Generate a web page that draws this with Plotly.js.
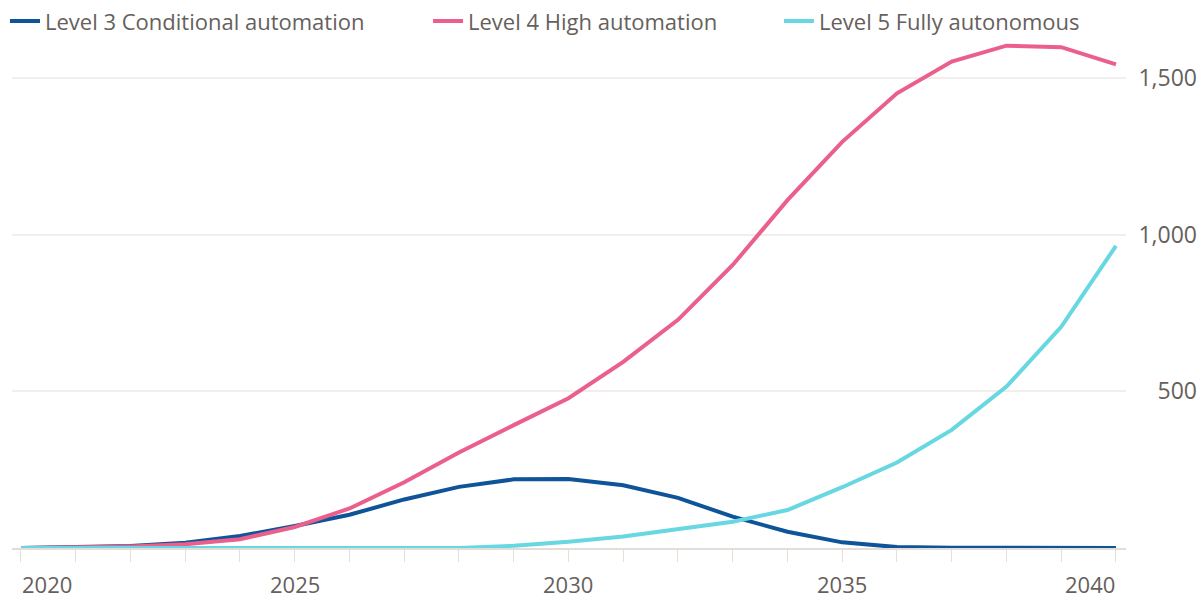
<!DOCTYPE html>
<html>
<head>
<meta charset="utf-8">
<script src="https://cdn.plot.ly/plotly-3.0.1.min.js"></script>
<style>
  html, body { margin: 0; padding: 0; background: #ffffff; }
  #chart { width: 1200px; height: 598px; }
</style>
</head>
<body>
<div id="chart"></div>
<script>
// Annual values by automation level, 2020-2040
const years = [2020, 2021, 2022, 2023, 2024, 2025, 2026, 2027, 2028, 2029, 2030,
               2031, 2032, 2033, 2034, 2035, 2036, 2037, 2038, 2039, 2040];
const level3 = [0, 2, 6, 17, 38, 70, 106, 155, 195, 219, 220,
                200, 160, 100, 52, 18, 3, 1, 0, 0, 0];
const level4 = [0, 2, 5, 12, 28, 67, 126, 210, 305, 392, 478,
                594, 728, 903, 1110, 1296, 1451, 1552, 1603, 1598, 1543];
const level5 = [0, 0, 0, 0, 0, 0, 0, 0, 0, 7, 20,
                37, 62, 84, 121, 194, 273, 377, 515, 706, 964];

const seriesNames = ['Level 3 Conditional automation', 'Level 4 High automation', 'Level 5 Fully autonomous'];
const yTicks = [0, 500, 1000, 1500];
const xLabelYears = [2020, 2025, 2030, 2035, 2040];

const colors = ['#0f5499', '#eb5f8c', '#67d7e2'];
const textGrey = '#66605c';
const font = 'Open Sans, Noto Sans, sans-serif';

// Each series gets its own legend box so the keys can sit spread across the top
const legendIds = ['legend', 'legend2', 'legend3'];
const legendX = [-0.0059, 0.3502, 0.6456];

const traces = [level3, level4, level5].map((vals, i) => ({
  x: years,
  y: vals,
  name: seriesNames[i],
  legend: legendIds[i],
  type: 'scatter',
  mode: 'lines',
  line: { color: colors[i], width: 4 },
  hoverinfo: 'x+y+name'
}));

// Year labels under the axis; the outer two are tucked inside the plot edge
const xLabels = xLabelYears.map((yr, i) => ({
  x: yr,
  xref: 'x',
  y: 0,
  yref: 'paper',
  yanchor: 'middle',
  yshift: -36,
  borderpad: 0,
  xanchor: i === 0 ? 'left' : (i === xLabelYears.length - 1 ? 'right' : 'center'),
  text: String(yr),
  showarrow: false,
  font: { family: font, size: 22, color: textGrey }
}));

const layout = {
  width: 1200,
  height: 598,
  margin: { l: 12, r: 0, t: 40, b: 50 },
  paper_bgcolor: '#ffffff',
  plot_bgcolor: '#ffffff',
  font: { family: font, color: textGrey },
  showlegend: true,
  xaxis: {
    domain: [0, 0.9377],
    range: [2019.836, 2040.183],
    tickmode: 'array',
    tickvals: years,
    showticklabels: false,
    ticks: 'outside',
    ticklen: 12,
    tickwidth: 1,
    tickcolor: '#e4dfdb',
    showgrid: false,
    zeroline: false,
    showline: true,
    linecolor: '#e2ddd9',
    linewidth: 2,
    fixedrange: true
  },
  yaxis: {
    range: [0, 1621],
    side: 'right',
    anchor: 'free',
    position: 1,
    ticklabelposition: 'inside',
    tickmode: 'array',
    tickvals: yTicks,
    tickformat: ',',
    ticks: '',
    showgrid: true,
    gridcolor: '#f1eeeb',
    gridwidth: 2,
    zeroline: false,
    showline: false,
    tickfont: { family: font, size: 23, color: textGrey },
    fixedrange: true
  },
  annotations: xLabels
};

legendIds.forEach((id, i) => {
  layout[id] = {
    orientation: 'h',
    x: legendX[i],
    xanchor: 'left',
    y: 1.037,
    yanchor: 'middle',
    font: { family: font, size: 22, color: textGrey },
    bgcolor: 'rgba(0,0,0,0)'
  };
});

Plotly.newPlot('chart', traces, layout, { displayModeBar: false, staticPlot: true });
</script>
</body>
</html>
